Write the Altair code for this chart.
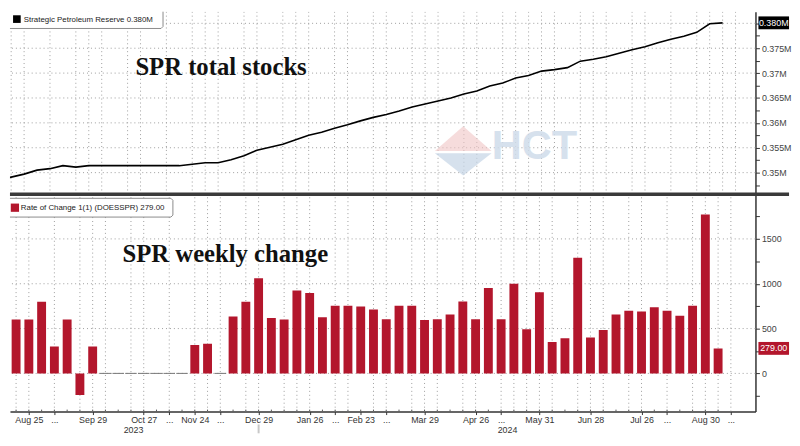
import altair as alt
import pandas as pd

# ---------------- data ----------------
week_dates = [d.strftime("%Y-%m-%d") for d in pd.date_range("2023-08-11", periods=57, freq="7D")]
weekly_change = [600, 600, 600, 800, 300, 600, -240, 300,
                 0, 0, 0, 0, 0, 0, 0, 316, 330, 0,
                 636, 800, 1062, 618, 600, 926, 897, 625, 754, 754, 746, 713, 603,
                 754, 754, 596, 603, 658, 801, 603, 952, 603, 1000,
                 493, 904, 349, 393, 1290, 401, 485, 658, 699, 691,
                 739, 699, 643, 754, 1772, 279]
spr_stocks = [0.3485, 0.3491, 0.3497, 0.3505, 0.3508, 0.3514, 0.3511, 0.3514,
              0.3514, 0.3514, 0.3514, 0.3514, 0.3514, 0.3514, 0.3514, 0.3517, 0.3520, 0.3520,
              0.3526, 0.3534, 0.3545, 0.3551, 0.3557, 0.3566, 0.3575, 0.3581, 0.3589, 0.3596,
              0.3604, 0.3611, 0.3617,
              0.3624, 0.3632, 0.3638, 0.3644, 0.3650, 0.3658, 0.3664, 0.3674, 0.3680, 0.3690,
              0.3695, 0.3704, 0.3707, 0.3711, 0.3724, 0.3728, 0.3733, 0.3740, 0.3747, 0.3753,
              0.3761, 0.3768, 0.3774, 0.3782, 0.3799, 0.3801]
tick_weeks = [2, 4, 7, 11, 13, 15, 17, 20, 24, 26, 28, 30, 33, 37, 39, 42, 46, 50, 52, 55, 57]
tick_labels = ["Aug 25", "...", "Sep 29", "Oct 27", "...", "Nov 24", "...", "Dec 29", "Jan 26",
               "...", "Feb 23", "...", "Mar 29", "Apr 26", "...", "May 31", "Jun 28", "Jul 26",
               "...", "Aug 30", "..."]
year_labels = ["2023", "2024"]
year_weeks = [10.2, 39.5]
year_divider_week = [20]
vgrid_weeks = [1, 2, 4, 6, 7, 8, 10, 11, 13, 15, 16, 17, 19, 20, 22, 23, 24, 26, 27, 29, 30,
               32, 33, 34, 36, 37, 39, 40, 41, 42, 43, 45, 46, 47, 49, 50, 52, 54, 55, 56, 57]
top_ticks = [0.3475, 0.35, 0.3525, 0.355, 0.3575, 0.36, 0.3625, 0.365, 0.3675, 0.37,
             0.3725, 0.375, 0.3775, 0.38]
top_grid = [0.35, 0.355, 0.36, 0.365, 0.37, 0.375, 0.38]
bot_ticks = [-250, 0, 250, 500, 750, 1000, 1250, 1500, 1750]
bot_grid = [0, 500, 1000, 1500]
series_names = ["Strategic Petroleum Reserve", "Rate of Change 1(1) (DOESSPR)"]
panel_titles = ["SPR total stocks", "SPR weekly change"]

df = pd.DataFrame({"date": week_dates, "wk": list(range(len(week_dates))),
                   "change": weekly_change, "stock": spr_stocks})

# ---------------- style ----------------
FONT = "Liberation Sans, Arial, sans-serif"
FS = 9
FS_LEG = 8
SERIF = "Liberation Serif, Times New Roman, serif"
GRID = "#9c9c9c"
RED = "#b3162c"
BOX = "#8a8a8a"
W, H_TOP, H_BOT = 755, 184, 221
BADGE = "M-1,-0.42H1V0.42H-1Z"

xs = alt.Scale(domain=[0.908, 58.54], nice=False, zero=False)
yt = alt.Scale(domain=[0.34583, 0.38234], nice=False, zero=False)
yb = alt.Scale(domain=[-426, 2008], nice=False, zero=False)


def one():
    return alt.Data(values=[{}])


idx_expr = "[" + ",".join(str(w) for w in tick_weeks) + "]"
lab_expr = "[" + ",".join("'" + t + "'" for t in tick_labels) + "]"
x_label_expr = f"{lab_expr}[indexof({idx_expr}, datum.value)]"

top_axis = alt.Axis(orient="right", values=top_ticks,
                    labelExpr="round(datum.value*2000) % 10 == 0 && datum.value < 0.379 ? format(datum.value, '.3~f') + 'M' : ''",
                    tickSize=4, tickColor="#333", domainColor="#333", domainWidth=1.5,
                    labelFont=FONT, labelFontSize=FS, labelColor="#444", labelPadding=2,
                    grid=False, title=None)
bot_axis = alt.Axis(orient="right", values=bot_ticks,
                    labelExpr="datum.value >= 0 && datum.value % 500 == 0 ? format(datum.value, 'd') : ''",
                    tickSize=4, tickColor="#333", domainColor="#333", domainWidth=1.5,
                    labelFont=FONT, labelFontSize=FS, labelColor="#444", labelPadding=2,
                    grid=False, title=None)
x_axis = alt.Axis(values=tick_weeks, labelExpr=x_label_expr, tickSize=3, tickColor="#333",
                  domainColor="#333", domainWidth=1.5, labelFont=FONT, labelFontSize=FS,
                  labelColor="#333", labelPadding=1, grid=False, title=None,
                  labelOverlap=False, labelFlush=False)

XT = dict(scale=xs, axis=None)        # top panel x (no axis)
YT = dict(scale=yt, axis=top_axis)    # top panel y
XB = dict(scale=xs, axis=x_axis)      # bottom panel x
YB = dict(scale=yb, axis=bot_axis)    # bottom panel y


def box_edges(x0, x1, y0, y1, top_edge=True):
    """White legend box; its left edge falls outside the drawing area."""
    layers = [alt.Chart(one()).mark_rect(fill="white", strokeWidth=0).encode(
        x=alt.value(x0), x2=alt.value(x1), y=alt.value(max(y0, 0)), y2=alt.value(y1))]
    if top_edge:
        layers.append(alt.Chart(one()).mark_rule(color=BOX, strokeWidth=1).encode(
            x=alt.value(x0), x2=alt.value(x1 - 2), y=alt.value(y0)))
    layers.append(alt.Chart(one()).mark_rule(color=BOX, strokeWidth=1).encode(
        x=alt.value(x0), x2=alt.value(x1 - 2), y=alt.value(y1)))
    layers.append(alt.Chart(one()).mark_rule(color=BOX, strokeWidth=1).encode(
        x=alt.value(x1), y=alt.value(max(y0, 0) + (2 if top_edge else 0)), y2=alt.value(y1 - 2)))
    layers.append(alt.Chart(one()).mark_rule(color=BOX, strokeWidth=1).encode(
        x=alt.value(x1 - 2), x2=alt.value(x1), y=alt.value(y1), y2=alt.value(y1 - 2)))
    if top_edge:
        layers.append(alt.Chart(one()).mark_rule(color=BOX, strokeWidth=1).encode(
            x=alt.value(x1 - 2), x2=alt.value(x1), y=alt.value(y0), y2=alt.value(y0 + 2)))
    return layers


# ---------------- top panel ----------------
vgrid_t = alt.Chart(pd.DataFrame({"wk": vgrid_weeks})).mark_rule(
    color=GRID, strokeDash=[1, 3], strokeWidth=1, clip=True).encode(x=alt.X("wk:Q", **XT))
hgrid_t = alt.Chart(pd.DataFrame({"v": top_grid})).mark_rule(
    color=GRID, strokeDash=[1, 3], strokeWidth=1).encode(y=alt.Y("v:Q", **YT))

wm_diamond_top = alt.Chart(one()).mark_point(
    shape="M-1,0L0,-0.87L1,0Z", filled=True, color="#f0c4c4", opacity=0.6, size=3300).encode(
    x=alt.value(459), y=alt.value(141))
wm_diamond_bot = alt.Chart(one()).mark_point(
    shape="M-1,0.08L1,0.08L0,0.87Z", filled=True, color="#c4d4e6", opacity=0.7, size=3300).encode(
    x=alt.value(459), y=alt.value(141))
wm_text = alt.Chart(one()).mark_text(
    text="HCT", font="Liberation Sans", fontWeight="bold", fontSize=42, color="#d0dcea",
    align="left", baseline="alphabetic", opacity=0.85).encode(x=alt.value(488), y=alt.value(149))

title_t = alt.Chart(one()).mark_text(
    text=panel_titles[0], font=SERIF, fontWeight="bold", fontSize=25, color="#111",
    align="left", baseline="alphabetic").encode(x=alt.value(127), y=alt.value(64))

line = alt.Chart(df).mark_line(color="#000", strokeWidth=1.6, clip=True).encode(
    x=alt.X("wk:Q", **XT), y=alt.Y("stock:Q", **YT))

leg_t = box_edges(0, 155, -2, 17, top_edge=False)
leg_sym_t = alt.Chart(one()).mark_point(
    shape="square", filled=True, color="#000", size=60, opacity=1).encode(
    x=alt.value(7), y=alt.value(7.5))
leg_txt_t = alt.Chart(pd.DataFrame({"t": [f"{series_names[0]} {spr_stocks[-1]:.3f}M"]})).mark_text(
    font=FONT, fontSize=FS_LEG, color="#222", align="left", baseline="middle").encode(
    x=alt.value(14), y=alt.value(8), text="t:N")

badge_t_df = pd.DataFrame({"v": [spr_stocks[-1]], "t": [f"{spr_stocks[-1]:.3f}M"]})
badge_t = alt.Chart(badge_t_df).mark_point(
    shape=BADGE, filled=True, color="#000", size=961, opacity=1).encode(
    x=alt.value(773.5), y=alt.Y("v:Q", **YT))
badge_t_txt = alt.Chart(badge_t_df).mark_text(
    font=FONT, fontSize=FS, color="white", align="center", baseline="middle").encode(
    x=alt.value(773.5), y=alt.Y("v:Q", **YT), text="t:N")

top = alt.layer(vgrid_t, hgrid_t, wm_diamond_top, wm_diamond_bot, wm_text,
                title_t, line, *leg_t, leg_sym_t, leg_txt_t,
                badge_t, badge_t_txt).properties(width=W, height=H_TOP)

# ---------------- bottom panel ----------------
vgrid_b = alt.Chart(pd.DataFrame({"wk": vgrid_weeks})).mark_rule(
    color=GRID, strokeDash=[1, 3], strokeWidth=1, clip=True).encode(x=alt.X("wk:Q", **XB))
hgrid_b = alt.Chart(pd.DataFrame({"v": bot_grid})).mark_rule(
    color=GRID, strokeDash=[1, 3], strokeWidth=1).encode(y=alt.Y("v:Q", **YB))

bars = alt.Chart(df).mark_bar(color=RED, width=9, clip=True).encode(
    x=alt.X("wk:Q", **XB), y=alt.Y("change:Q", **YB))

zero_rules = alt.Chart(df).transform_filter("datum.change == 0").transform_calculate(
    a="datum.wk - 0.45", b="datum.wk + 0.45").mark_rule(
    color="#777", strokeWidth=1, clip=True).encode(
    x=alt.X("a:Q", **XB), x2="b:Q", y=alt.Y("change:Q", **YB))

week_ticks = alt.Chart(df).transform_filter("datum.wk >= 1").mark_rule(
    color="#555", strokeWidth=1, clip=True).encode(
    x=alt.X("wk:Q", **XB), y=alt.value(H_BOT - 2), y2=alt.value(H_BOT))

sep = alt.Chart(one()).mark_rule(color="#3a3a3a", strokeWidth=3.5).encode(
    x=alt.value(0), x2=alt.value(789), y=alt.value(0.8))

title_b = alt.Chart(one()).mark_text(
    text=panel_titles[1], font=SERIF, fontWeight="bold", fontSize=25, color="#111",
    align="left", baseline="alphabetic").encode(x=alt.value(114), y=alt.value(70))

leg_b = box_edges(0, 165, 5, 24, top_edge=True)
leg_sym_b = alt.Chart(one()).mark_point(
    shape="square", filled=True, color=RED, size=70, opacity=1).encode(
    x=alt.value(5), y=alt.value(14.5))
leg_txt_b = alt.Chart(pd.DataFrame({"t": [f"{series_names[1]} {weekly_change[-1]:.2f}"]})).mark_text(
    font=FONT, fontSize=FS_LEG, color="#222", align="left", baseline="middle").encode(
    x=alt.value(11), y=alt.value(15), text="t:N")

badge_b_df = pd.DataFrame({"v": [weekly_change[-1]], "t": [f"{weekly_change[-1]:.2f}"]})
badge_b = alt.Chart(badge_b_df).mark_point(
    shape=BADGE, filled=True, color=RED, size=961, opacity=1).encode(
    x=alt.value(773.5), y=alt.Y("v:Q", **YB))
badge_b_txt = alt.Chart(badge_b_df).mark_text(
    font=FONT, fontSize=FS, color="white", align="center", baseline="middle").encode(
    x=alt.value(773.5), y=alt.Y("v:Q", **YB), text="t:N")

years = alt.Chart(pd.DataFrame({"wk": year_weeks, "t": year_labels})).mark_text(
    font=FONT, fontSize=FS, color="#333", align="center", baseline="middle").encode(
    x=alt.X("wk:Q", **XB), y=alt.value(H_BOT + 19), text="t:N")
year_div = alt.Chart(pd.DataFrame({"wk": year_divider_week})).mark_rule(
    color="#c8c8c8", strokeWidth=2).encode(
    x=alt.X("wk:Q", **XB), y=alt.value(H_BOT + 13), y2=alt.value(H_BOT + 22))

bottom = alt.layer(vgrid_b, hgrid_b, zero_rules, bars, week_ticks, sep,
                   title_b, *leg_b, leg_sym_b, leg_txt_b,
                   badge_b, badge_b_txt, years, year_div).properties(width=W, height=H_BOT)

chart = alt.vconcat(top, bottom, spacing=0, bounds="flush").properties(
    padding={"left": 0, "top": 0, "right": 0, "bottom": 0},
    background="white").configure_view(stroke=None)

chart.save("out.html", embed_options={"renderer": "svg", "actions": False})
